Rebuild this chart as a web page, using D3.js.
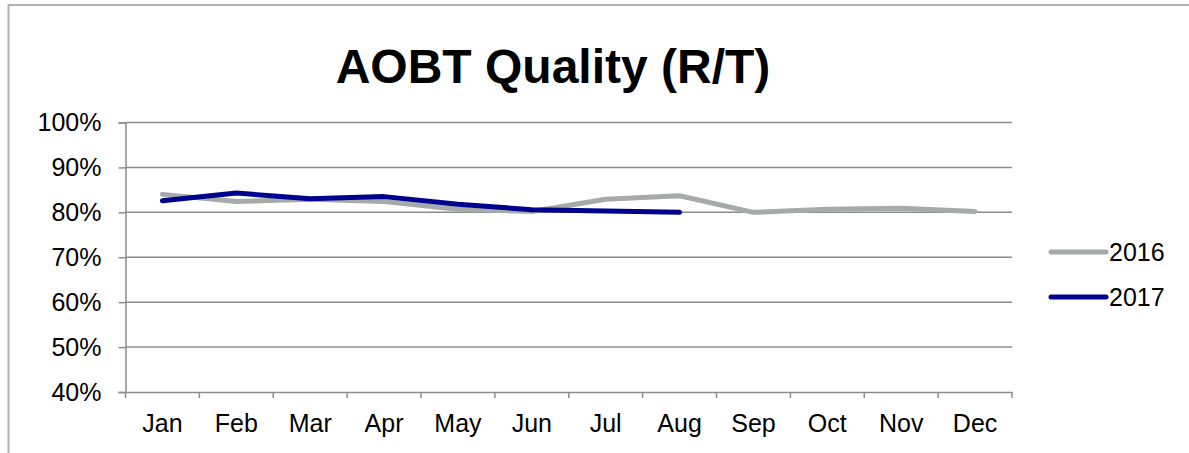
<!DOCTYPE html>
<html>
<head>
<meta charset="utf-8">
<script src="https://cdn.jsdelivr.net/npm/d3@7"></script>
<style>
  body { margin: 0; background: #fff; }
  svg text { font-family: Arial, "Liberation Sans", sans-serif; fill: #000; }
</style>
</head>
<body>
<div id="chart"></div>
<script>
const months = ["Jan", "Feb", "Mar", "Apr", "May", "Jun", "Jul", "Aug", "Sep", "Oct", "Nov", "Dec"];
const values2016 = [84.0, 82.4, 82.9, 82.4, 80.7, 80.2, 82.9, 83.7, 80.0, 80.7, 80.9, 80.2];
const values2017 = [82.6, 84.3, 83.0, 83.5, 81.8, 80.6, 80.3, 80.0];
const yTicks = [40, 50, 60, 70, 80, 90, 100];

const seriesList = [
  { name: "2016", color: "#a6abaa", values: values2016 },
  { name: "2017", color: "#00008f", values: values2017 }
];

const W = 1189, H = 453;
const margin = { top: 122.5, right: 177, bottom: 61, left: 125.5 };
const width = W - margin.left - margin.right;
const height = H - margin.top - margin.bottom;

const svg = d3.select("#chart").append("svg")
  .attr("width", W)
  .attr("height", H);

// chart frame (only top and left edges show in the picture)
svg.append("rect")
  .attr("x", 8.5).attr("y", 5)
  .attr("width", 1200).attr("height", 500)
  .attr("fill", "none")
  .attr("stroke", "#b0b2b2")
  .attr("stroke-width", 2);

svg.append("text")
  .attr("x", 553)
  .attr("y", 83)
  .attr("text-anchor", "middle")
  .style("font-size", "48px")
  .style("font-weight", "bold")
  .text("AOBT Quality (R/T)");

const g = svg.append("g")
  .attr("transform", `translate(${margin.left},${margin.top})`);

const x = d3.scaleBand()
  .domain(months)
  .range([0, width]);

const y = d3.scaleLinear()
  .domain([40, 100])
  .range([height, 0]);

const axisColor = "#8c8c8c";

// gridlines
g.append("g")
  .selectAll("line")
  .data(yTicks.filter(d => d > 40))
  .enter()
  .append("line")
  .attr("x1", 0).attr("x2", width)
  .attr("y1", d => y(d)).attr("y2", d => y(d))
  .attr("stroke", axisColor)
  .attr("stroke-width", 1.5);

// y axis
const yAxis = d3.axisLeft(y)
  .tickValues(yTicks)
  .tickFormat(d => d + "%")
  .tickSize(7)
  .tickPadding(17);

const yg = g.append("g").call(yAxis);
yg.select(".domain").attr("stroke", axisColor).attr("stroke-width", 1.5);
yg.selectAll(".tick line").attr("stroke", axisColor).attr("stroke-width", 1.5);
yg.selectAll(".tick text").style("font-size", "25px").attr("font-family", null);

// x axis with ticks between categories
const xAxis = d3.axisBottom(x).tickSize(0).tickPadding(22);
const xg = g.append("g")
  .attr("transform", `translate(0,${height})`)
  .call(xAxis);
xg.select(".domain").attr("stroke", axisColor).attr("stroke-width", 1.5);
xg.selectAll(".tick text").style("font-size", "25px").attr("font-family", null);

xg.selectAll(".sep")
  .data(d3.range(months.length + 1))
  .enter()
  .append("line")
  .attr("x1", i => i * x.bandwidth())
  .attr("x2", i => i * x.bandwidth())
  .attr("y1", 0).attr("y2", 6)
  .attr("stroke", axisColor)
  .attr("stroke-width", 1.5);

// lines
const line = d3.line()
  .x((d, i) => x(months[i]) + x.bandwidth() / 2)
  .y(d => y(d));

seriesList.forEach(s => {
  g.append("path")
    .datum(s.values)
    .attr("fill", "none")
    .attr("stroke", s.color)
    .attr("stroke-width", 5)
    .attr("stroke-linecap", "round")
    .attr("stroke-linejoin", "round")
    .attr("d", line);
});

// legend
const legend = svg.append("g")
  .selectAll("g")
  .data(seriesList)
  .enter()
  .append("g")
  .attr("transform", (d, i) => `translate(1051,${252 + i * 45})`);

legend.append("line")
  .attr("x1", 0).attr("x2", 55)
  .attr("stroke", d => d.color)
  .attr("stroke-width", 5)
  .attr("stroke-linecap", "round");

legend.append("text")
  .attr("x", 58)
  .attr("dy", "0.35em")
  .style("font-size", "25px")
  .text(d => d.name);
</script>
</body>
</html>
